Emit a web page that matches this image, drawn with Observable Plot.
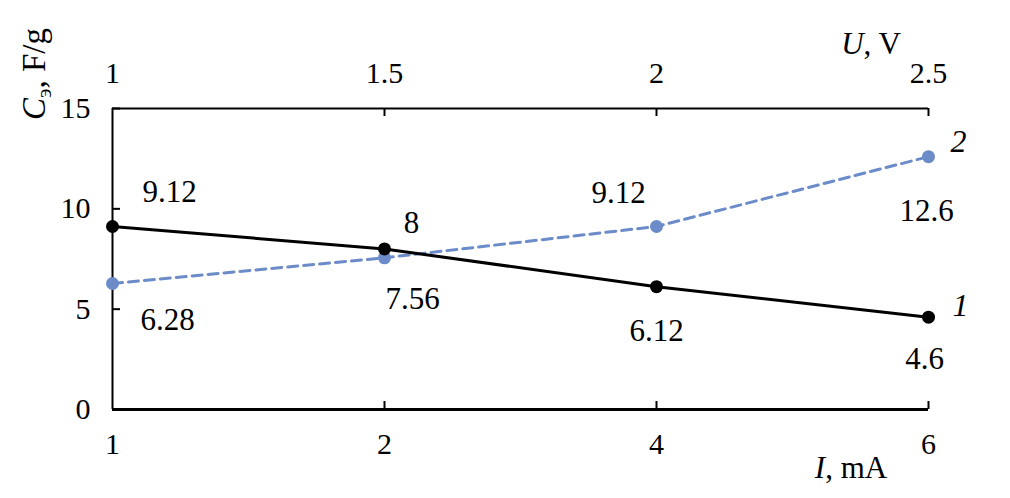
<!DOCTYPE html>
<html><head><meta charset="utf-8">
<script src="https://cdn.jsdelivr.net/npm/d3@7"></script>
<script src="https://cdn.jsdelivr.net/npm/@observablehq/plot@0.6"></script>
<style>
body{margin:0;background:#fff;overflow:hidden}
#chart svg, #chart svg text{font-family:"Liberation Serif","Times New Roman",serif !important}
</style>
</head><body><div id="chart"></div>
<script>
const currents = ["1", "2", "4", "6"];          // I, mA (bottom axis)
const voltages = ["1", "1.5", "2", "2.5"];      // U, V (top axis)
const series1 = [9.12, 8, 6.12, 4.6];           // curve 1 (vs I)
const series2 = [6.28, 7.56, 9.12, 12.6];       // curve 2 (vs U)
const yTicks = [0, 5, 10, 15];
const seriesNames = ["1", "2"];

const blue = "#6b8cc8";
const FONT = "Liberation Serif, Times New Roman, serif";
const off1 = [[57, -34], [27, -26], [0, 44], [-4, 42]];
const off2 = [[55, 37], [28, 41], [-38, -33], [-2, 54]];

const rows1 = series1.map((v, i) => ({x: currents[i], y: v}));
const rows2 = series2.map((v, i) => ({x: currents[i], y: v}));
const yMin = yTicks[0], yMax = yTicks[yTicks.length - 1];
const xFirst = () => currents[0], xLast = () => currents[currents.length - 1];

const labelMarks = [
  ...rows1.map((r, i) => Plot.text([r], {x: "x", y: "y", text: d => String(d.y), dx: off1[i][0], dy: off1[i][1], fill: "black", fontFamily: FONT, fontSize: 31})),
  ...rows2.map((r, i) => Plot.text([r], {x: "x", y: "y", text: d => String(d.y), dx: off2[i][0], dy: off2[i][1], fill: "black", fontFamily: FONT, fontSize: 31}))
];

const chart = Plot.plot({
  width: 1010, height: 498,
  marginLeft: 111, marginRight: 81, marginTop: 108, marginBottom: 89,
  style: {fontFamily: FONT, fontSize: "30px", background: "white", color: "black"},
  x: {type: "point", domain: currents, padding: 0},
  y: {domain: [yMin, yMax]},
  marks: [
    Plot.axisX({anchor: "bottom", tickSize: 0, tickPadding: 23, label: null, fontFamily: FONT, fontSize: 30}),
    Plot.axisX({anchor: "top", tickSize: 0, tickPadding: 26, label: null, fontFamily: FONT, fontSize: 30, tickFormat: d => voltages[currents.indexOf(d)]}),
    Plot.axisY({ticks: yTicks, tickSize: 0, tickPadding: 21, label: null, fontFamily: FONT, fontSize: 30}),
    // frame
    Plot.ruleX([currents[0]], {y1: yMin, y2: yMax, stroke: "black", strokeWidth: 2}),
    Plot.ruleY([yMin], {x1: xFirst, x2: xLast, stroke: "black", strokeWidth: 3}),
    Plot.ruleY([yMax], {x1: xFirst, x2: xLast, stroke: "black", strokeWidth: 2}),
    // inward ticks
    Plot.ruleX(currents.slice(1), {y1: yMin, y2: yMin, insetTop: -8, stroke: "black", strokeWidth: 2}),
    Plot.ruleX(currents.slice(1), {y1: yMax, y2: yMax, insetBottom: -8, stroke: "black", strokeWidth: 2}),
    Plot.ruleY(yTicks, {x1: xFirst, x2: xFirst, insetRight: -8, stroke: "black", strokeWidth: 2}),
    // series
    Plot.line(rows2, {x: "x", y: "y", stroke: blue, strokeWidth: 3, strokeDasharray: "10,6"}),
    Plot.line(rows1, {x: "x", y: "y", stroke: "black", strokeWidth: 3}),
    Plot.dot(rows2, {x: "x", y: "y", r: 6.5, fill: blue}),
    Plot.dot(rows1, {x: "x", y: "y", r: 6.5, fill: "black"}),
    ...labelMarks,
    Plot.text([rows1[rows1.length - 1]], {x: "x", y: "y", text: () => seriesNames[0], dx: 32, dy: -11, fontStyle: "italic", fontFamily: FONT, fontSize: 32}),
    Plot.text([rows2[rows2.length - 1]], {x: "x", y: "y", text: () => seriesNames[1], dx: 30, dy: -15, fontStyle: "italic", fontFamily: FONT, fontSize: 32})
  ]
});
document.getElementById("chart").appendChild(chart);

const svg = d3.select(chart);
const yt = svg.append("text").attr("transform", "translate(45,74) rotate(-90)")
  .attr("text-anchor", "middle")
  .attr("font-family", FONT).attr("font-size", 33).attr("fill", "black");
yt.append("tspan").attr("font-style", "italic").text("C");
yt.append("tspan").attr("font-size", 22).attr("dy", 6).text("э");
yt.append("tspan").attr("dy", -6).text(", F/g");

const ut = svg.append("text").attr("x", 871).attr("y", 54).attr("text-anchor", "middle")
  .attr("font-family", FONT).attr("font-size", 31).attr("fill", "black");
ut.append("tspan").attr("font-style", "italic").text("U");
ut.append("tspan").text(", V");

const it = svg.append("text").attr("x", 851).attr("y", 478).attr("text-anchor", "middle")
  .attr("font-family", FONT).attr("font-size", 31).attr("fill", "black");
it.append("tspan").attr("font-style", "italic").text("I");
it.append("tspan").text(", mA");
</script>
</body></html>
